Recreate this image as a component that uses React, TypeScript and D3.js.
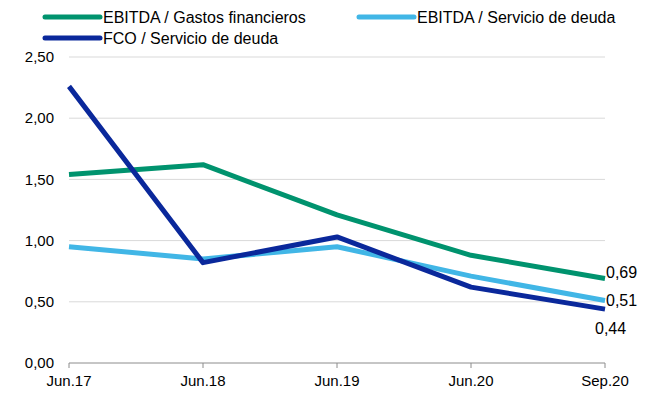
import React from "react";
import * as d3 from "d3";

const categories = ["Jun.17", "Jun.18", "Jun.19", "Jun.20", "Sep.20"];
const ebitdaGastos = [1.54, 1.62, 1.21, 0.88, 0.69];
const ebitdaServicio = [0.95, 0.85, 0.95, 0.71, 0.51];
const fcoServicio = [2.26, 0.82, 1.03, 0.62, 0.44];
const yTicks = [0, 0.5, 1, 1.5, 2, 2.5];
const seriesNames = ["EBITDA / Gastos financieros", "EBITDA / Servicio de deuda", "FCO / Servicio de deuda"];

const colors = ["#00936E", "#41B6E6", "#0A289B"];

export default function App() {
  const W = 652, H = 394;
  const x = d3.scalePoint<string>().domain(categories).range([69, 605]);
  const y = d3.scaleLinear().domain([0, 2.5]).range([363, 57]);
  const fmt = (v: number) => v.toFixed(2).replace(".", ",");
  const line = d3.line<number>().x((_, i) => x(categories[i])!).y((d) => y(d));
  const series = [ebitdaGastos, ebitdaServicio, fcoServicio];
  const font = "Liberation Sans, Arial, sans-serif";
  const legendPos = [
    { x: 45, y: 17 },
    { x: 359, y: 17 },
    { x: 45, y: 38 },
  ];
  const endLabelOffsets = [
    { dx: 1, dy: -6 },
    { dx: 1, dy: 0 },
    { dx: -10, dy: 19 },
  ];
  return (
    <svg width={W} height={H} style={{ position: "absolute", left: 0, top: 0 }} fontFamily={font}>
      {yTicks.slice(1).map((t) => (
        <line key={t} x1={69} x2={605} y1={y(t)} y2={y(t)} stroke="#d9d9d9" strokeWidth={1} />
      ))}
      <line x1={69} x2={605} y1={y(0)} y2={y(0)} stroke="#8c8c8c" strokeWidth={1} />
      {categories.map((c) => (
        <line key={c} x1={x(c)} x2={x(c)} y1={y(0)} y2={y(0) + 5} stroke="#8c8c8c" strokeWidth={1} />
      ))}
      {yTicks.map((t) => (
        <text key={t} x={54} y={y(t)} dy="0.35em" textAnchor="end" fontSize={15} fill="#000">
          {fmt(t)}
        </text>
      ))}
      {categories.map((c) => (
        <text key={c} x={x(c)} y={386} textAnchor="middle" fontSize={15} fill="#000">
          {c}
        </text>
      ))}
      {series.map((s, i) => (
        <path key={i} d={line(s) || ""} fill="none" stroke={colors[i]} strokeWidth={5} strokeLinejoin="round" />
      ))}
      {series.map((s, i) => (
        <text
          key={"l" + i}
          x={x(categories[categories.length - 1])! + endLabelOffsets[i].dx}
          y={y(s[s.length - 1]) + endLabelOffsets[i].dy}
          dy="0.35em"
          fontSize={16}
          fill="#000"
        >
          {fmt(s[s.length - 1])}
        </text>
      ))}
      {seriesNames.map((n, i) => (
        <g key={n}>
          <line
            x1={legendPos[i].x}
            x2={legendPos[i].x + 55}
            y1={legendPos[i].y}
            y2={legendPos[i].y}
            stroke={colors[i]}
            strokeWidth={5}
            strokeLinecap="round"
          />
          <text x={legendPos[i].x + 58} y={legendPos[i].y} dy="0.35em" fontSize={16} fill="#000">
            {n}
          </text>
        </g>
      ))}
    </svg>
  );
}
